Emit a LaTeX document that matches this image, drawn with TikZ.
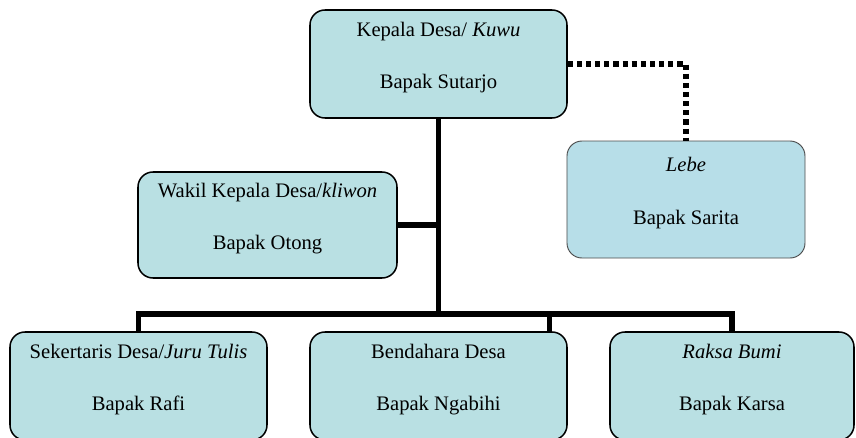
\documentclass[tikz,border=0pt]{standalone}
\usepackage{fontspec}
\setmainfont{Liberation Serif}
\usepackage{xcolor}
\usetikzlibrary{positioning,calc}

\definecolor{boxfill}{RGB}{185,224,227}
\definecolor{lebefill}{RGB}{183,222,232}
\newcommand{\roles}[2]{#1\\[24pt]#2\\[-6pt]\mbox{}}

\begin{document}
\begin{tikzpicture}[
    x=0.03cm, y=-0.03cm,
    office/.style={rectangle, draw, line width=1.3pt, rounded corners=0.45cm, fill=boxfill, minimum width=7.71cm, minimum height=3.24cm, inner sep=0pt, align=center, font=\fontsize{17.6}{21}\selectfont},
    trunk/.style={line width=4.4pt},
    adviser/.style={line width=4.6pt, dash pattern=on 4.4pt off 3.4pt},
]
\useasboundingbox (0,0) rectangle (856,437);
\clip (0,0) rectangle (856,437);

% head of village
\node[office] (kepala) at (438.5,64) {\roles{Kepala Desa/ \textit{Kuwu}}{Bapak Sutarjo}};

% deputy and religious officer
\node[office, minimum width=7.77cm, minimum height=3.18cm] (wakil) at (267.5,225) {\roles{Wakil Kepala Desa/\textit{kliwon}}{Bapak Otong}};
\node[office, minimum width=7.14cm, minimum height=3.51cm, fill=lebefill, draw=black!70, line width=0.8pt] (lebe) at (686,199.5) {\roles{\textit{Lebe}}{Bapak Sarita}};

% staff
\node[office] (rafi) at (138.5,386) {\roles{Sekertaris Desa/\textit{Juru Tulis}}{Bapak Rafi}};
\node[office] (bend) at (438.5,386) {\roles{Bendahara Desa}{Bapak Ngabihi}};
\node[office, minimum width=7.32cm] (raksa) at (732,386) {\roles{\textit{Raksa Bumi}}{Bapak Karsa}};

% Lines
\coordinate (bus) at (438.5,314);
\coordinate (bendtap) at ($(bend.north)+(111,0)$);
\draw[trunk] (kepala) -- (bus);
\draw[trunk] (wakil.east) -- (wakil.east -| bus);
\draw[trunk] (rafi.north) |- (bus) -| (raksa.north);
\draw[trunk] (bendtap) -- (bendtap |- bus);
\draw[adviser] (kepala.east) -| (lebe.north);

\end{tikzpicture}
\end{document}
